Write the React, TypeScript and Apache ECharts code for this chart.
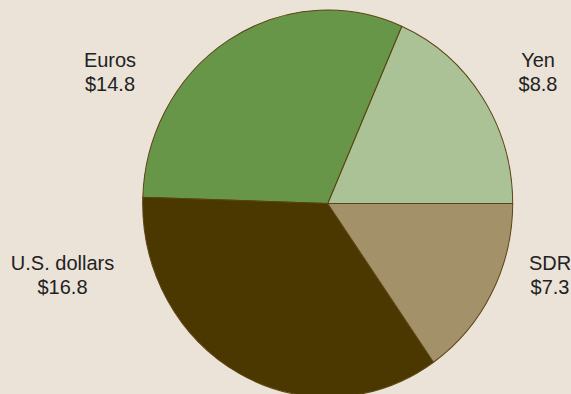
import React, { useEffect, useRef } from "react";
import * as echarts from "echarts";

const categories = ["Yen", "Euros", "U.S. dollars", "SDR"];
const values = [8.8, 14.8, 16.8, 7.3];
const colors = ["#aac295", "#689648", "#4a3800", "#a39169"];

// label anchor points (chart coordinates before vertical stretch)
const labelX = [538, 110, 62.5, 550];
const labelY = [68.3, 68.3, 262.6, 262.6];

const STRETCH = 1.046;

export default function App() {
  const ref = useRef<HTMLDivElement>(null);
  useEffect(() => {
    if (!ref.current) return;
    const chart = echarts.init(ref.current, undefined, { renderer: "svg" });
    chart.setOption({
      animation: false,
      backgroundColor: "#ebe3d8",
      series: [
        {
          type: "pie",
          center: [327.7, 194.6],
          radius: 185,
          startAngle: 0,
          clockwise: false,
          silent: true,
          itemStyle: { borderColor: "#5a4412", borderWidth: 1 },
          label: {
            show: true,
            position: "outside",
            formatter: (p: any) => `${p.name}\n$${p.value}`,
            fontFamily: "Liberation Sans, Arial, sans-serif",
            fontSize: 20,
            lineHeight: 23,
            color: "#222222",
            align: "center",
            overflow: "none",
            width: 200,
          },
          labelLine: { show: false },
          labelLayout: (params: any) => ({
            x: labelX[params.dataIndex],
            y: labelY[params.dataIndex],
            align: "center",
            verticalAlign: "middle",
          }),
          data: categories.map((name, i) => ({
            name,
            value: values[i],
            itemStyle: { color: colors[i] },
          })),
        },
      ],
    });
    return () => chart.dispose();
  }, []);
  return (
    <div
      style={{
        position: "fixed",
        left: 0,
        top: 0,
        width: 571,
        height: 394,
        overflow: "hidden",
        background: "#ebe3d8",
      }}
    >
      <div
        ref={ref}
        style={{
          width: 571,
          height: 394,
          transform: `scaleY(${STRETCH})`,
          transformOrigin: "0 0",
        }}
      />
    </div>
  );
}
